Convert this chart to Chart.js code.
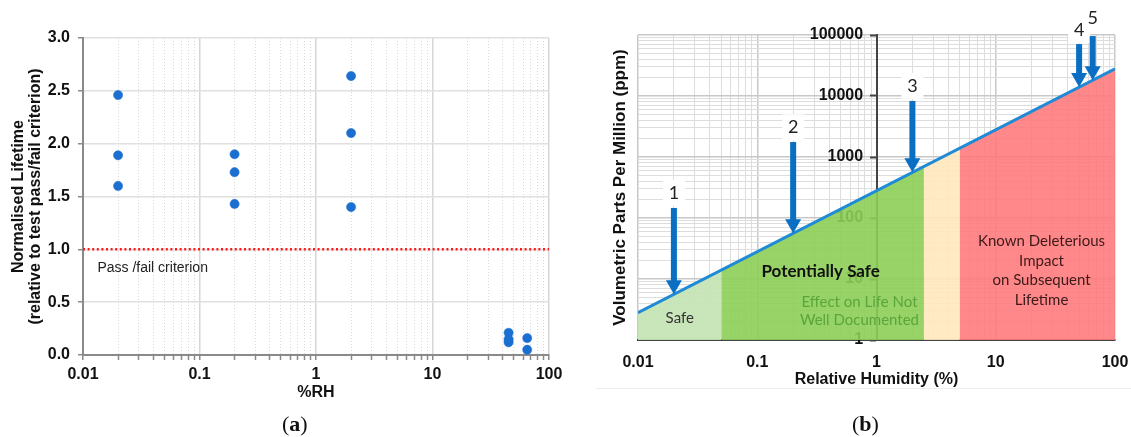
<!DOCTYPE html>
<html>
<head>
<meta charset="utf-8">
<script src="https://cdn.jsdelivr.net/npm/chart.js@4.4.1/dist/chart.umd.min.js"></script>
<style>
  html, body { margin: 0; padding: 0; background: #fff; }
  body { width: 1131px; height: 437px; position: relative; overflow: hidden; }
  canvas { position: absolute; top: 0; }
  #chartA { left: 0; width: 570px; height: 437px; }
  #chartB { left: 590px; width: 541px; height: 437px; }
  .cap { position: absolute; top: 411px; line-height: 26px; font-family: "Liberation Serif", serif; font-size: 22px; color: #111; }
  .rule { position: absolute; left: 596px; top: 388px; width: 535px; height: 1px; background: #efefef; }
</style>
</head>
<body>
<canvas id="chartA" width="570" height="437"></canvas>
<canvas id="chartB" width="541" height="437"></canvas>
<div class="rule"></div>
<div class="cap" style="left:282px">(<b>a</b>)</div>
<div class="cap" style="left:852px">(<b>b</b>)</div>
<script>
// === (a) normalised lifetime vs %RH ===
const rhA   = [0.02, 0.02, 0.02, 0.2, 0.2, 0.2, 2, 2, 2, 45, 45, 45, 65, 65];
const lifeA = [2.46, 1.89, 1.60, 1.90, 1.73, 1.43, 2.64, 2.10, 1.40, 0.21, 0.15, 0.12, 0.16, 0.05];
const passFailRh   = [0.01, 100];
const passFailLife = [1.0, 1.0];
const passFailNote = 'Pass /fail criterion';
const passFailNoteAt = [0.0133, 0.82];   // RH, lifetime

// === (b) ppm vs relative humidity ===
const satRh  = [0.01, 100];
const satPpm = [2.8, 28000];
const zoneNames  = ['Safe', 'Potentially Safe', 'Undocumented', 'Known Deleterious'];
const zoneRh     = [[0.01, 0.05], [0.05, 2.5], [2.5, 5], [5, 100]];
const zonePpm    = [[2.8, 14], [14, 700], [700, 1400], [1400, 28000]];
const zoneColors = ['rgba(196,227,180,0.92)', 'rgba(140,206,86,0.9)', 'rgba(255,232,190,0.9)', 'rgba(255,120,122,0.88)'];

const noteLines  = [['Safe'], ['Potentially Safe'], ['Effect on Life Not', 'Well Documented'],
                    ['Known Deleterious', 'Impact', 'on Subsequent', 'Lifetime']];
const noteRh     = [0.0224, 0.34, 0.72, 24.2];
const notePpm    = [2.25, 13.5, 3.0, 13.6];
const noteColors = ['#333333', '#111111', '#5aa63c', '#3c1a1a'];
const noteBold   = [false, true, false, false];

const arrowLabels   = ['1', '2', '3', '4', '5'];
const arrowRh       = [0.02, 0.2, 2, 50, 65];
const arrowTopPpm   = [146, 1760, 8300, 71000, 96000];
const arrowTipPpm   = [5.6, 56, 560, 14000, 18200];
const arrowLabelPpm = [257, 3070, 14700, 121000, 190000];

// === axis ticks ===
const rhDecades    = [0.01, 0.1, 1, 10, 100];
const rhLabels     = ['0.01', '0.1', '1', '10', '100'];
const ppmDecades   = [1, 10, 100, 1000, 10000, 100000];
const ppmLabels    = ['1', '10', '100', '1000', '10000', '100000'];
const lifeTicks    = [0, 0.5, 1, 1.5, 2, 2.5, 3];

const fontA = '"Liberation Sans", Arial, sans-serif';
const fontB = 'Lato, "Open Sans", sans-serif';

// 1..9 x each decade, for log grids
function logTicks(decs) {
  const out = [];
  for (let i = 0; i < decs.length - 1; i++)
    for (let k = 1; k < 10; k++) out.push({ value: +(decs[i] * k).toPrecision(6) });
  out.push({ value: decs[decs.length - 1] });
  return out;
}
const isDecade = v => Math.abs(Math.log10(v) - Math.round(Math.log10(v))) < 1e-6;
const rhLabel = v => { const i = rhDecades.indexOf(v); return i >= 0 ? rhLabels[i] : ''; };

// === chart (a) ===
const passFailText = {
  id: 'passFailText',
  afterDatasetsDraw(chart) {
    const { ctx, scales: { x, y } } = chart;
    ctx.save();
    ctx.font = '14px ' + fontA;
    ctx.fillStyle = '#222';
    ctx.textAlign = 'left';
    ctx.textBaseline = 'middle';
    ctx.fillText(passFailNote, x.getPixelForValue(passFailNoteAt[0]), y.getPixelForValue(passFailNoteAt[1]));
    ctx.restore();
  }
};

new Chart(document.getElementById('chartA'), {
  type: 'scatter',
  data: {
    datasets: [
      {
        type: 'line',
        data: passFailRh.map((x, i) => ({ x, y: passFailLife[i] })),
        borderColor: '#ff1a1a', borderWidth: 2.5, borderDash: [2, 2.6],
        pointRadius: 0, fill: false, order: 1
      },
      {
        data: rhA.map((x, i) => ({ x, y: lifeA[i] })),
        backgroundColor: '#1b6fd1', borderColor: '#1b6fd1', borderWidth: 0.5,
        pointRadius: 4.6, order: 0
      }
    ]
  },
  options: {
    responsive: false,
    animation: false,
    layout: { padding: { left: 0, top: 38, right: 21, bottom: 0 } },
    plugins: { legend: { display: false }, tooltip: { enabled: false } },
    scales: {
      x: {
        type: 'logarithmic', min: 0.01, max: 100,
        afterBuildTicks: s => { s.ticks = logTicks(rhDecades); },
        afterFit: s => { s.height = 82; s.paddingRight = 10; },
        ticks: {
          autoSkip: false, maxRotation: 0, padding: 5, color: '#111',
          font: { family: fontA, size: 16, weight: 'bold' },
          callback: rhLabel
        },
        grid: {
          color: c => (c.tick && isDecade(c.tick.value)) ? '#d6d6d6' : '#d9d9d9',
          lineWidth: c => (c.tick && isDecade(c.tick.value)) ? 1.5 : 1,
          tickLength: 5, tickColor: '#8a8a8a', tickWidth: 1.5
        },
        border: {
          color: '#8a8a8a', width: 2,
          dash: c => (c.tick && !isDecade(c.tick.value)) ? [1, 2] : []
        },
        title: {
          display: true, text: '%RH', color: '#111',
          font: { family: fontA, size: 16, weight: 'bold', lineHeight: '18px' },
          padding: { top: 0, bottom: 35 }
        }
      },
      y: {
        min: 0, max: 3,
        afterBuildTicks: s => { s.ticks = lifeTicks.map(v => ({ value: v })); },
        afterFit: s => { s.width = 83; },
        ticks: {
          padding: 8, color: '#111',
          font: { family: fontA, size: 16, weight: 'bold' },
          callback: v => v.toFixed(1)
        },
        grid: { color: '#e0e0e0', lineWidth: 1.5, tickLength: 5, tickColor: '#8a8a8a', tickWidth: 1.5 },
        border: { color: '#8a8a8a', width: 2 },
        title: {
          display: true, text: ['Normalised Lifetime', '(relative to test pass/fail criterion)'], color: '#111',
          font: { family: fontA, size: 16, weight: 'bold', lineHeight: '17px' },
          padding: { top: 10, bottom: 0 }
        }
      }
    }
  },
  plugins: [passFailText]
});

// === chart (b) ===
const zoneNotes = {
  id: 'zoneNotes',
  afterDatasetsDraw(chart) {
    const { ctx, scales: { x, y } } = chart;
    ctx.save();
    ctx.textAlign = 'center';
    ctx.textBaseline = 'middle';

    // zone texts
    noteLines.forEach((lines, i) => {
      const lh = lines.length > 2 ? 19.5 : 18;
      const cx = x.getPixelForValue(noteRh[i]);
      const cy = y.getPixelForValue(notePpm[i]) - (lines.length - 1) * lh / 2;
      ctx.font = (noteBold[i] ? 'bold 17px ' : '15px ') + fontB;
      ctx.fillStyle = noteColors[i];
      lines.forEach((t, j) => ctx.fillText(t, cx, cy + j * lh));
    });

    // arrow label boxes
    const px = arrowRh.map(v => x.getPixelForValue(v));
    ctx.fillStyle = '#fff';
    px.forEach((p, i) => ctx.fillRect(p - 11, y.getPixelForValue(arrowLabelPpm[i]) - 13, 22, 26));

    // arrows
    ctx.fillStyle = '#0a6fc2';
    px.forEach((p, i) => {
      const top = y.getPixelForValue(arrowTopPpm[i]);
      const tip = y.getPixelForValue(arrowTipPpm[i]);
      const head = 14;
      ctx.fillRect(p - 3, top, 6, tip - head - top + 1);
      ctx.beginPath();
      ctx.moveTo(p - 8, tip - head);
      ctx.lineTo(p + 8, tip - head);
      ctx.lineTo(p, tip);
      ctx.closePath();
      ctx.fill();
    });

    // arrow numbers
    ctx.font = '18px ' + fontB;
    ctx.fillStyle = '#222';
    px.forEach((p, i) => ctx.fillText(arrowLabels[i], p, y.getPixelForValue(arrowLabelPpm[i])));
    ctx.restore();
  }
};

new Chart(document.getElementById('chartB'), {
  type: 'line',
  data: {
    datasets: [
      {
        label: 'Saturation',
        data: satRh.map((x, i) => ({ x, y: satPpm[i] })),
        borderColor: '#1f8ad6', borderWidth: 3, pointRadius: 0, fill: false, order: 0
      },
      ...zoneNames.map((name, i) => ({
        label: name,
        data: zoneRh[i].map((x, j) => ({ x, y: zonePpm[i][j] })),
        borderWidth: 0, borderColor: 'rgba(0,0,0,0)', backgroundColor: zoneColors[i],
        pointRadius: 0, fill: 'start', order: 1
      }))
    ]
  },
  options: {
    responsive: false,
    animation: false,
    layout: { padding: { left: 0, top: 35, right: 16, bottom: 0 } },
    plugins: { legend: { display: false }, tooltip: { enabled: false } },
    scales: {
      x: {
        type: 'logarithmic', min: 0.01, max: 100,
        afterBuildTicks: s => { s.ticks = logTicks(rhDecades); },
        afterFit: s => { s.height = 97; s.paddingRight = 10; s.paddingLeft = 0; },
        ticks: {
          autoSkip: false, maxRotation: 0, padding: 13, color: '#111',
          font: { family: fontA, size: 16, weight: 'bold' },
          callback: rhLabel
        },
        grid: {
          color: c => (c.tick && isDecade(c.tick.value)) ? '#c8c8c8' : '#dddddd',
          lineWidth: c => (c.tick && isDecade(c.tick.value)) ? 1.5 : 1,
          drawTicks: false
        },
        border: { color: '#444', width: 2 },
        title: {
          display: true, text: 'Relative Humidity (%)', color: '#111',
          font: { family: fontA, size: 16, weight: 'bold', lineHeight: '18px' },
          padding: { top: 0, bottom: 48 }
        }
      },
      y: {
        type: 'logarithmic', position: 'left', min: 1, max: 100000,
        afterBuildTicks: s => { s.ticks = logTicks(ppmDecades); },
        afterFit: s => { s.width = 48; },
        ticks: { display: false },
        grid: {
          color: c => (c.tick && isDecade(c.tick.value)) ? '#c8c8c8' : '#dddddd',
          lineWidth: c => (c.tick && isDecade(c.tick.value)) ? 1.5 : 1,
          drawTicks: false
        },
        border: { display: false },
        title: {
          display: true, text: 'Volumetric Parts Per Million (ppm)', color: '#111',
          font: { family: fontA, size: 17, weight: 'bold', lineHeight: '19px' },
          padding: { top: 21, bottom: 0 }
        }
      },
      yc: {
        axis: 'y', type: 'logarithmic', position: { x: 1 }, min: 1, max: 100000,
        afterBuildTicks: s => { s.ticks = ppmDecades.map(v => ({ value: v })); },
        ticks: {
          autoSkip: false, color: '#111',
          font: { family: fontA, size: 16, weight: 'bold' },
          callback: v => ppmLabels[ppmDecades.indexOf(v)] + '   '
        },
        grid: { drawOnChartArea: false, tickLength: 6, tickColor: '#444', tickWidth: 2 },
        border: { color: '#444', width: 2 }
      }
    }
  },
  plugins: [zoneNotes]
});
</script>
</body>
</html>
